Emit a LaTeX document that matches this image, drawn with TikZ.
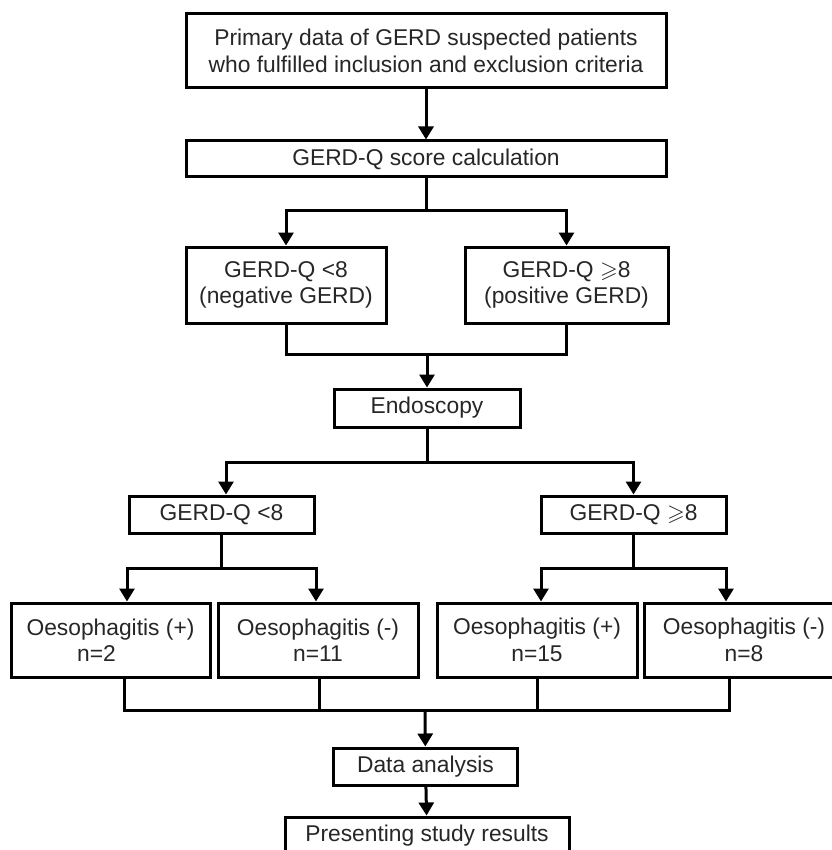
\documentclass[tikz,border=0pt]{standalone}
\usepackage{amssymb}
\usepackage{fontspec}
\setmainfont{Liberation Sans}
\usetikzlibrary{arrows.meta}

\begin{document}
\begin{tikzpicture}[x=1pt, y=-1pt,
    box/.style={draw, line width=3pt, inner sep=0pt, align=center, text=black!85,
      font=\fontsize{22.8}{26.5}\selectfont},
    link/.style={line width=3pt},
    arr/.style={line width=3pt, -{Triangle[width=15pt,length=13pt]}}]

    \useasboundingbox (0,0) rectangle (831,850);

    % boxes
    \node[box, minimum width=480pt, minimum height=74pt] (prim) at (426,51)
        {Primary data of GERD suspected patients\\who fulfilled inclusion and exclusion criteria};
    \node[box, minimum width=480pt, minimum height=36pt] (score) at (426,159) {GERD-Q score calculation};
    \node[box, minimum width=200pt, minimum height=76pt] (neg) at (286,285) {GERD-Q <8\\(negative GERD)};
    \node[box, minimum width=203pt, minimum height=76pt] (pos) at (566.5,285) {GERD-Q $\geqslant$8\\(positive GERD)};
    \node[box, minimum width=186pt, minimum height=38pt] (endo) at (427,408) {Endoscopy};
    \node[box, minimum width=185pt, minimum height=37pt] (lowq) at (221.5,514.5) {GERD-Q <8};
    \node[box, minimum width=185pt, minimum height=37pt] (highq) at (633.5,514.5) {GERD-Q $\geqslant$8};
    \node[box, minimum width=199pt, minimum height=74pt] (o1) at (110.5,640) {Oesophagitis (+)\\n=2\hspace*{28pt}};
    \node[box, minimum width=200pt, minimum height=74pt] (o2) at (318,640) {Oesophagitis (-)\\n=11};
    \node[box, minimum width=200pt, minimum height=74pt] (o3) at (537,640) {Oesophagitis (+)\\n=15};
    \node[box, minimum width=200pt, minimum height=74pt] (o4) at (744,640) {Oesophagitis (-)\\n=8};
    \node[box, minimum width=184pt, minimum height=37pt] (data) at (425.5,766.5) {Data analysis};
    \node[box, minimum width=284pt, minimum height=37pt] (pres) at (427,835.5) {Presenting study results};

    % branch points
    \coordinate (split1) at (426,211);
    \coordinate (merge1) at (427,354);
    \coordinate (split2) at (427,462);
    \coordinate (split3) at (221.5,568);
    \coordinate (split4) at (633.5,568);
    \coordinate (merge2) at (425,710);

    % connectors
    \draw[arr] (prim) -- (score);
    \draw[link] (score) -- (split1);
    \draw[arr] (split1) -| (neg);
    \draw[arr] (split1) -| (pos);
    \draw[link] (neg.south) |- (merge1) -| (pos.south);
    \draw[arr] (merge1) -- (endo);
    \draw[link] (endo) -- (split2);
    \draw[arr] (split2) -| ([xshift=4.5pt]lowq.north);
    \draw[arr] (split2) -| (highq);
    \draw[link] (lowq) -- (split3);
    \draw[arr] (split3) -| ([xshift=16.5pt]o1.north);
    \draw[arr] (split3) -| ([xshift=-2pt]o2.north);
    \draw[link] (highq) -- (split4);
    \draw[arr] (split4) -| ([xshift=4pt]o3.north);
    \draw[arr] (split4) -| ([xshift=-18pt]o4.north);
    \draw[link] ([xshift=13.5pt]o1.south) |- (merge2) -| ([xshift=-15pt]o4.south);
    \draw[link] ([xshift=1pt]o2.south) -- ([xshift=1pt]o2.south |- merge2);
    \draw[link] (o3.south) -- (o3.south |- merge2);
    \draw[arr] (merge2) -- (data);
    \draw[arr] (data) -- (pres);

\end{tikzpicture}
\end{document}
